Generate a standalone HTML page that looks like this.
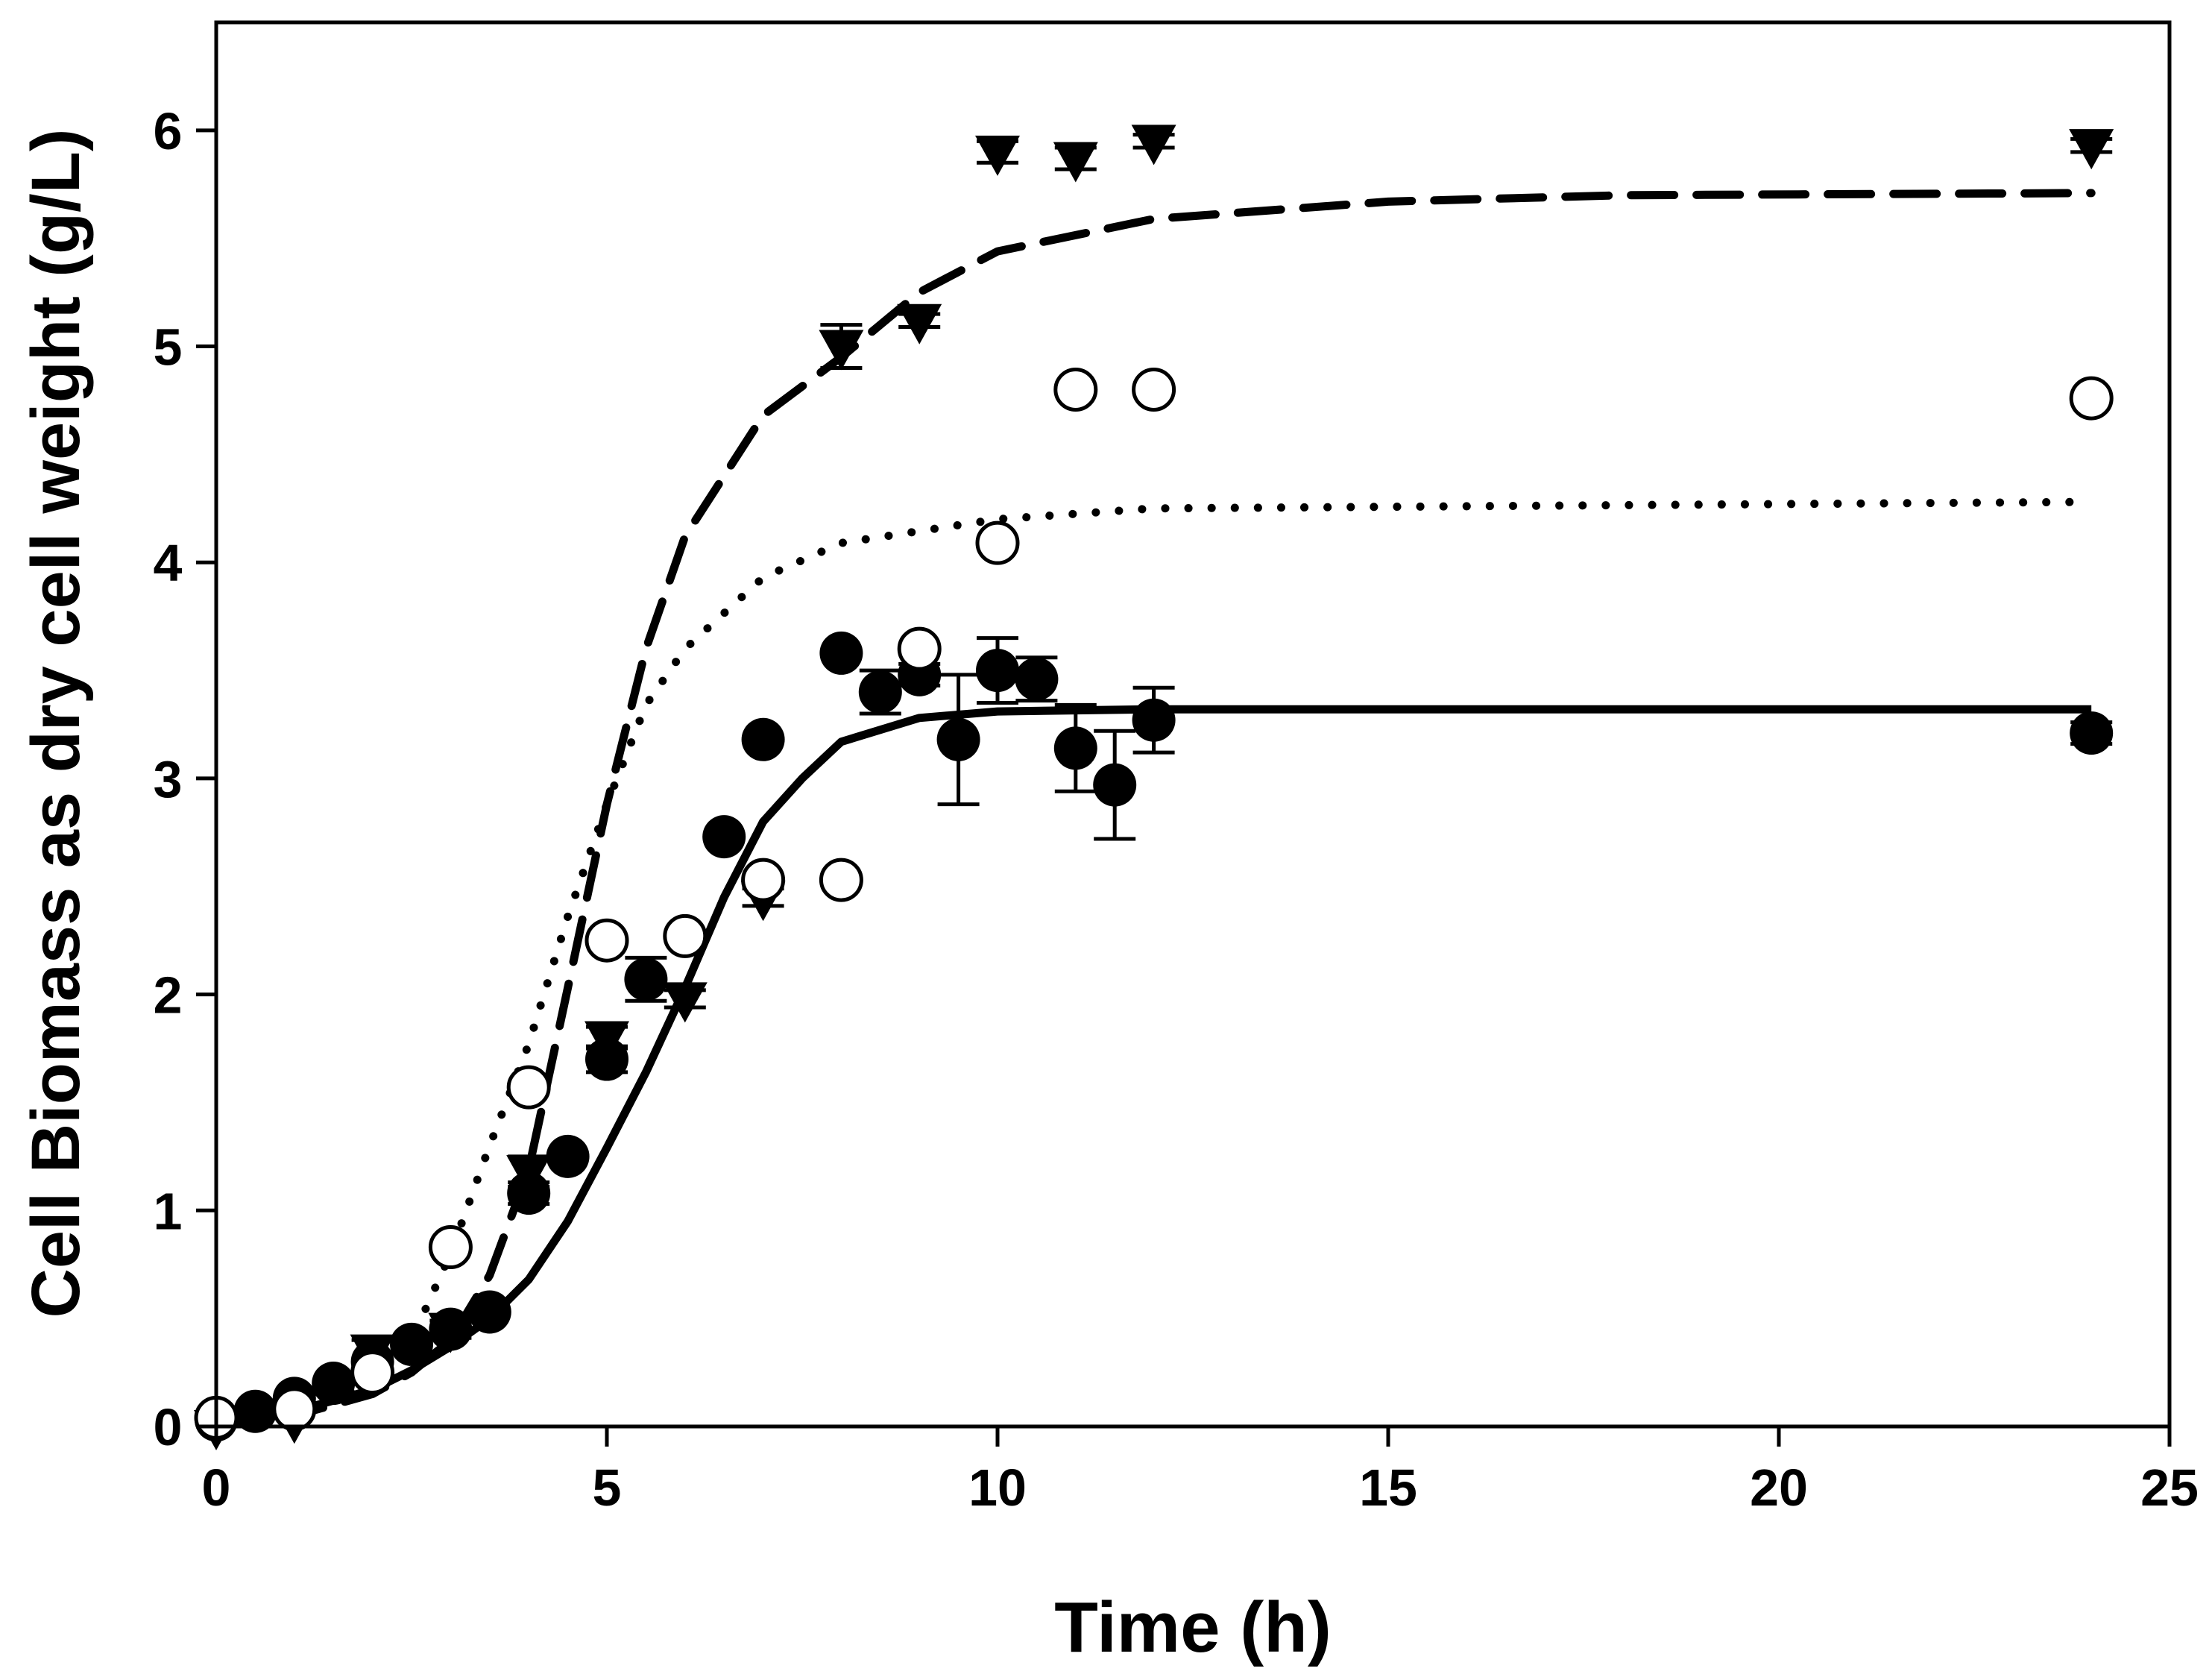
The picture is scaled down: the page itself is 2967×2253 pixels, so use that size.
<!DOCTYPE html>
<html><head><meta charset="utf-8"><style>
html,body{margin:0;padding:0;background:#fff;}
svg{display:block;font-family:"Liberation Sans",Arial,sans-serif;font-weight:bold;}
</style></head><body>
<svg id="chart" width="2967" height="2253" viewBox="0 0 2967 2253" xmlns="http://www.w3.org/2000/svg">
<g id="marks"></g>
<g id="axes"></g>
<text x="1600" y="2215" font-size="96" text-anchor="middle">Time (h)</text>
<text transform="translate(106,970) rotate(-90)" font-size="92" text-anchor="middle">Cell Biomass as dry cell weight (g/L)</text>
</svg>
<script>
const xTicks=[0,5,10,15,20,25];
const yTicks=[0,1,2,3,4,5,6];
const filledX=[0,0.5,1,1.5,2,2.5,3,3.5,4,4.5,5,5.5,6.5,7,8,8.5,9,9.5,10,10.5,11,11.5,12,24];
const filledY=[0.03,0.07,0.13,0.2,0.3,0.38,0.45,0.53,1.08,1.25,1.7,2.07,2.73,3.18,3.58,3.4,3.48,3.18,3.5,3.46,3.14,2.97,3.27,3.21];
const filledErr=[0,0,0,0,0,0,0,0,0.05,0,0.06,0.1,0,0,0,0.1,0.05,0.3,0.15,0.1,0.2,0.25,0.15,0.05];
const openX=[0,1,2,3,4,5,6,7,8,9,10,11,12,24];
const openY=[0.04,0.08,0.25,0.83,1.57,2.25,2.27,2.53,2.53,3.6,4.09,4.8,4.8,4.76];
const triX=[0,1,2,3,4,5,6,7,8,9,10,11,12,24];
const triY=[0,0.03,0.35,0.45,1.18,1.8,1.98,2.45,5.0,5.12,5.9,5.87,5.95,5.93];
const triErr=[0,0,0.05,0.04,0.07,0.05,0.04,0.04,0.1,0.03,0.05,0.05,0.03,0.03];
const solidX=[0,1,2,2.5,3,3.5,4,4.5,5,5.5,6,6.5,7,7.5,8,9,10,12,24];
const solidY=[0,0.07,0.17,0.26,0.37,0.5,0.68,0.95,1.29,1.64,2.03,2.45,2.8,3.0,3.17,3.28,3.31,3.32,3.32];
const dashX=[0,1,2,2.5,3,3.5,4,4.5,5,5.5,6,7,8,9,10,12,15,18,24];
const dashY=[0,0.05,0.15,0.25,0.4,0.7,1.19,2.03,2.88,3.6,4.12,4.68,4.95,5.25,5.44,5.59,5.67,5.7,5.71];
const dotX=[0,1,2,2.5,3,3.5,4,4.5,5,5.5,6,7,8,10,12,24];
const dotY=[0,0.07,0.2,0.4,0.8,1.3,1.77,2.36,2.88,3.34,3.6,3.93,4.09,4.2,4.25,4.28];

const L=290,R=2910,T=30,B=1913,XMAX=25,YMAX=6.5;
const sx=v=>L+(R-L)*v/XMAX, sy=v=>B-(B-T)*v/YMAX;
const NS="http://www.w3.org/2000/svg";
const marks=document.getElementById('marks'), axes=document.getElementById('axes');
function mk(tag,attrs,parent){const e=document.createElementNS(NS,tag);for(const k in attrs)e.setAttribute(k,attrs[k]);parent.appendChild(e);return e;}

function curve(xs,ys,dash,name,cap){
  const d=xs.map((x,i)=>(i?'L':'M')+sx(x).toFixed(1)+','+sy(ys[i]).toFixed(1)).join(' ');
  const p=mk('path',{d:d,fill:'none',stroke:'#000','stroke-width':11,'stroke-linecap':cap,'stroke-linejoin':'round'},marks);
  if(dash==='dash')p.setAttribute('stroke-dasharray','58 30');
  if(dash==='dot')p.setAttribute('stroke-dasharray','0.1 31');
  
  
}
curve(solidX,solidY,'solid','solid-fit-line','butt');
curve(dashX,dashY,'dash','dashed-fit-line','round');
curve(dotX,dotY,'dot','dotted-fit-line','round');

function errbar(x,y,e,name){
  if(!e)return;
  const cx=sx(x),y1=sy(y+e),y2=sy(y-e);
  const g=mk('g',{stroke:'#000','stroke-width':5},marks);
  
  
  mk('line',{x1:cx,y1:y1,x2:cx,y2:y2},g);
  mk('line',{x1:cx-28,y1:y1,x2:cx+28,y2:y1},g);
  mk('line',{x1:cx-28,y1:y2,x2:cx+28,y2:y2},g);
}
triX.forEach((x,i)=>errbar(x,triY[i],triErr[i],'triangle-error-bar'));
filledX.forEach((x,i)=>errbar(x,filledY[i],filledErr[i],'filled-error-bar'));

triX.forEach((x,i)=>{
  const cx=sx(x),cy=sy(triY[i]);
  const p=mk('polygon',{points:`${cx-30},${cy-22} ${cx+30},${cy-22} ${cx},${cy+32}`,fill:'#000'},marks);
  
  
});
filledX.forEach((x,i)=>{
  const c=mk('circle',{cx:sx(x),cy:sy(filledY[i]),r:29,fill:'#000'},marks);
  
  
});
openX.forEach((x,i)=>{
  const c=mk('circle',{cx:sx(x),cy:sy(openY[i]),r:27,fill:'#fff',stroke:'#000','stroke-width':5},marks);
  
  
});

const frame=mk('rect',{x:L,y:T,width:R-L,height:B-T,fill:'none',stroke:'#000','stroke-width':5},axes);


xTicks.forEach(t=>{
  const x=sx(t);
  const l=mk('line',{x1:x,y1:B,x2:x,y2:B+27,stroke:'#000','stroke-width':5},axes);
  
  
  const tx=mk('text',{x:x,y:B+106,'font-size':70,'text-anchor':'middle'},axes);
  tx.textContent=t;
  
  
});
yTicks.forEach(t=>{
  const y=sy(t);
  const l=mk('line',{x1:L-27,y1:y,x2:L,y2:y,stroke:'#000','stroke-width':5},axes);
  
  
  const tx=mk('text',{x:L-65,y:y+25,'font-size':70,'text-anchor':'middle'},axes);
  tx.textContent=t;
  
  
});
</script>
</body></html>
